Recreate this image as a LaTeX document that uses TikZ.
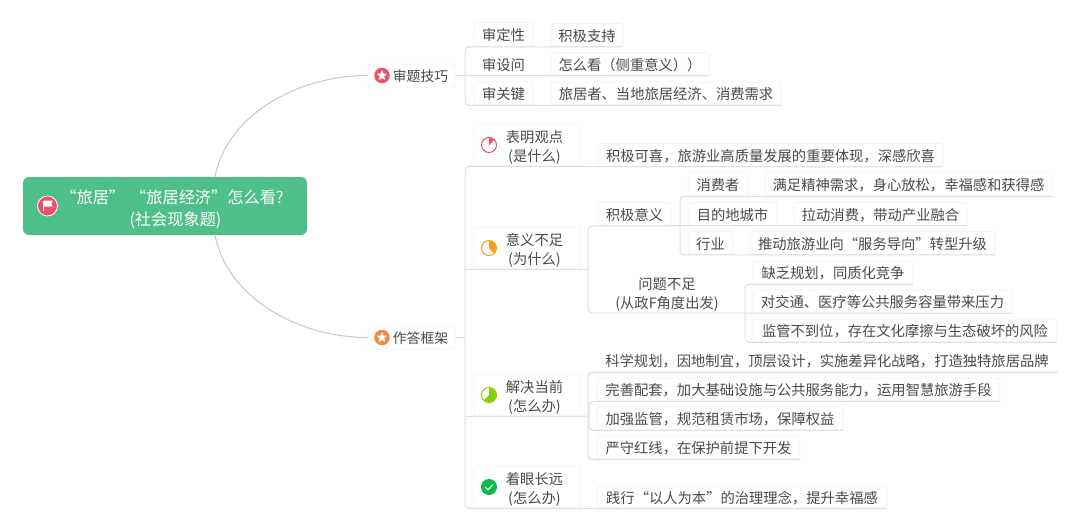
\documentclass[tikz,border=0pt]{standalone}
\usepackage{fontspec}
\setmainfont{Noto Sans CJK SC}
\usetikzlibrary{shapes.geometric}
\definecolor{ink}{HTML}{4A4A4A}
\definecolor{rootg}{HTML}{4FBF8A}
\definecolor{lnc}{HTML}{DEDEDE}
\definecolor{edgec}{HTML}{F3F3F3}
\definecolor{redi}{HTML}{EE5068}
\definecolor{orgi}{HTML}{F5873F}
\definecolor{yeli}{HTML}{FA9E1E}
\definecolor{grni}{HTML}{86CE00}
\definecolor{dgri}{HTML}{10B84A}
\tikzset{
  card/.style={draw=edgec,line width=.8pt,fill=white,rounded corners=3pt,inner sep=0pt,text=ink,align=center,
     text height=12.4pt,text depth=0pt,font=\fontsize{14.3}{19}\selectfont},
  plain/.style={inner sep=0pt,text=ink,align=center,font=\fontsize{14.3}{18.5}\selectfont},
  conn/.style={draw=lnc,line width=1pt,rounded corners=4pt},
  curve/.style={draw=black!22,line width=1pt},
  disc/.style={circle,inner sep=0pt,minimum size=#1},
  staricon/.style={star,star points=5,star point ratio=2.2,fill=white,inner sep=0pt,minimum size=11pt}
}
\begin{document}
\begin{tikzpicture}[x=1pt,y=-1pt]
\useasboundingbox (0,0) rectangle (1080,531);
% root
\node[draw=none,fill=rootg,rounded corners=6pt,minimum width=284pt,minimum height=58pt,inner sep=0pt] (root) at (165,206) {};
\node[inner sep=0pt,text=white,align=center,font=\fontsize{16.2}{22.5}\selectfont] (rootT) at (175.5,209) {“旅居”\kern5pt“旅居经济”怎么看?\kern7pt\\(社会现象题)};
% top-level
\node[card,minimum width=87pt,minimum height=23pt] (skill) at (411.5,75.5) {};
\node[plain,font=\fontsize{13.8}{18}\selectfont] (skillT) at (420.5,76.5) {审题技巧};
\node[card,minimum width=87pt,minimum height=23pt] (frame) at (411.5,337.5) {};
\node[plain,font=\fontsize{13.8}{18}\selectfont] (frameT) at (420.5,338.5) {作答框架};
% skill children
\node[card,minimum width=59pt,minimum height=24pt] (a1) at (503.5,34.5) {审定性};
\node[card,minimum width=72pt,minimum height=23pt] (a1b) at (587,35) {积极支持};
\node[card,draw=white,minimum width=59pt,minimum height=23pt] (a2) at (503.5,64) {审设问};
\node[card,minimum width=158pt,minimum height=23pt] (a2b) at (630,64) {怎么看（侧重意义））};
\node[card,minimum width=59pt,minimum height=23pt] (a3) at (503.5,93.5) {审关键};
\node[card,minimum width=230pt,minimum height=23pt] (a3b) at (666,93.5) {旅居者、当地旅居经济、消费需求};
% frame children
\node[card,minimum width=106pt,minimum height=42pt] (b1) at (527,145) {};
\node[plain] (b1T) at (534.5,147.5) {表明观点\\(是什么)};
\node[card,minimum width=345pt,minimum height=23pt] (b1b) at (770.5,155) {积极可喜，旅游业高质量发展的重要体现，深感欣喜};
\node[card,minimum width=106pt,minimum height=42pt] (b2) at (527,248) {};
\node[plain] (b2T) at (534.5,250.5) {意义不足\\(为什么)};
\node[card,minimum width=73pt,minimum height=23pt] (c1) at (634.5,214) {积极意义};
\node[card,minimum width=60pt,minimum height=24pt] (d1) at (718,184) {消费者};
\node[card,minimum width=287pt,minimum height=24pt] (d1b) at (908.5,184) {满足精神需求，身心放松，幸福感和获得感};
\node[card,minimum width=89pt,minimum height=23pt] (d2) at (732.5,214) {目的地城市};
\node[card,minimum width=173pt,minimum height=23pt] (d2b) at (880.5,214) {拉动消费，带动产业融合};
\node[card,minimum width=45pt,minimum height=23pt] (d3) at (710.5,243) {行业};
\node[card,minimum width=245pt,minimum height=23pt] (d3b) at (872.5,243) {推动旅游业向“服务导向”转型升级};
\node[plain] (c2) at (667,294.5) {问题不足\\(从政F角度出发)};
\node[card,minimum width=160pt,minimum height=23pt] (e1) at (833,272.5) {缺乏规划，同质化竞争};
\node[card,minimum width=259pt,minimum height=23pt] (e2) at (882.5,301.5) {对交通、医疗等公共服务容量带来压力};
\node[card,minimum width=304pt,minimum height=23pt] (e3) at (905,330.5) {监管不到位，存在文化摩擦与生态破坏的风险};
\node[card,minimum width=106pt,minimum height=42pt] (b3) at (527,395) {};
\node[plain] (b3T) at (534.5,397.5) {解决当前\\(怎么办)};
\node[card,draw=white,minimum width=460pt,minimum height=24pt] (f1) at (827,360) {科学规划，因地制宜，顶层设计，实施差异化战略，打造独特旅居品牌};
\node[card,minimum width=403pt,minimum height=23pt] (f2) at (798.5,389.5) {完善配套，加大基础设施与公共服务能力，运用智慧旅游手段};
\node[card,minimum width=246pt,minimum height=23pt] (f3) at (720,418.5) {加强监管，规范租赁市场，保障权益};
\node[card,minimum width=203pt,minimum height=23pt] (f4) at (698.5,447.5) {严守红线，在保护前提下开发};
\node[card,minimum width=106pt,minimum height=42pt] (b4) at (527,487) {};
\node[plain] (b4T) at (534.5,489.5) {着眼长远\\(怎么办)};
\node[card,minimum width=290pt,minimum height=22pt] (g1) at (742,497) {践行“以人为本”的治理理念，提升幸福感};
% spine reference points
\coordinate (sA) at (465,75.5);
\coordinate (sB) at (465,337.5);
\coordinate (sC) at (588,248);
\coordinate (sD) at (680,214);
\coordinate (sE) at (745,313);
\coordinate (sF) at (588,416);
% curves
\draw[curve] ([xshift=50pt]root.north) .. controls +(12,-62) and +(-70,0) .. (skill.west);
\draw[curve] ([xshift=50pt]root.south) .. controls +(12,62) and +(-70,0) .. (frame.west);
% connectors
\draw[conn] (skill.east) -- (sA);
\draw[conn] (a1b.south east) -- (a1.south -| sA) -- (a3.south -| sA) -- (a3b.south east);
\draw[conn] (sA) -- (a2b.south east);
\draw[conn] (frame.east) -- (sB);
\draw[conn] (b1b.south east) -- (b1.south -| sB) -- (b4.south -| sB) -- (g1.south east);
\draw[conn] (b2.south -| sB) -- (b2.south east) -- (sC |- b2.south);
\draw[conn] (b3.south -| sB) -- (b3.south east) -- (sF);
\draw[conn] (d1b.south east) -- (d1.south -| sD) -- (d3.south -| sD) -- (d3b.south east);
\draw[conn] (c1.south -| sD) -- (d2b.south east);
\draw[conn] (c1.south east) -- (c1.south -| sD);
\draw[conn] (c1.south east) -- (c1.south west -| sC) -- (sC |- sE) -- (sE);
\draw[conn] (e1.south east) -- (e1.south -| sE) -- (e3.south -| sE) -- (e3.south east);
\draw[conn] (sE) -- (e2.south east);
\draw[conn] (f1.south east) -- (f1.south -| sF) -- (f4.south -| sF) -- (f4.south east);
\draw[conn] (f2.south east) -- ([xshift=1pt]f2.south -| sF) -- ([xshift=1pt]f3.south -| sF) -- (f3.south east);
% root icon
\node[disc=20pt,draw=white,line width=.8pt,fill=redi] (iRoot) at (47.5,206) {};
\fill[white] ([shift={(-5,-5.5)}]iRoot.center) rectangle ++(1.2,10.5);
\fill[white,rounded corners=.6pt] ([shift={(-4,-5.5)}]iRoot.center) -- ++(9.5,0) -- ++(-1.6,3) -- ++(1.6,3) -- ++(-9.5,0) -- cycle;
% star icons
\node[disc=15.5pt,fill=redi] (iA) at (382,75.5) {};
\node[staricon] (iAs) at (iA) {};
\node[disc=15.5pt,fill=orgi] (iB) at (382,337.5) {};
\node[staricon] (iBs) at (iB) {};
% progress icons
\node[disc=15pt,draw=redi,line width=1pt,fill=white] (p1) at (489,145) {};
\fill[redi] (p1.center) -- ++(0,-7) arc[start angle=-90,end angle=-45,radius=7] -- cycle;
\node[disc=15pt,draw=yeli,line width=1pt,fill=white] (p2) at (489,248) {};
\fill[yeli] (p2.center) -- ++(0,-7) arc[start angle=-90,end angle=45,radius=7] -- cycle;
\node[disc=15pt,draw=grni,line width=1pt,fill=white] (p3) at (489,395) {};
\fill[grni] (p3.center) -- ++(0,-7) arc[start angle=-90,end angle=135,radius=7] -- cycle;
\node[disc=16pt,fill=dgri] (p4) at (489,487) {};
\draw[white,line width=1.1pt,line cap=round,line join=round] ([shift={(-3.6,0.2)}]p4.center) -- ++(2.6,2.6) -- ++(4.8,-5);
\end{tikzpicture}
\end{document}
